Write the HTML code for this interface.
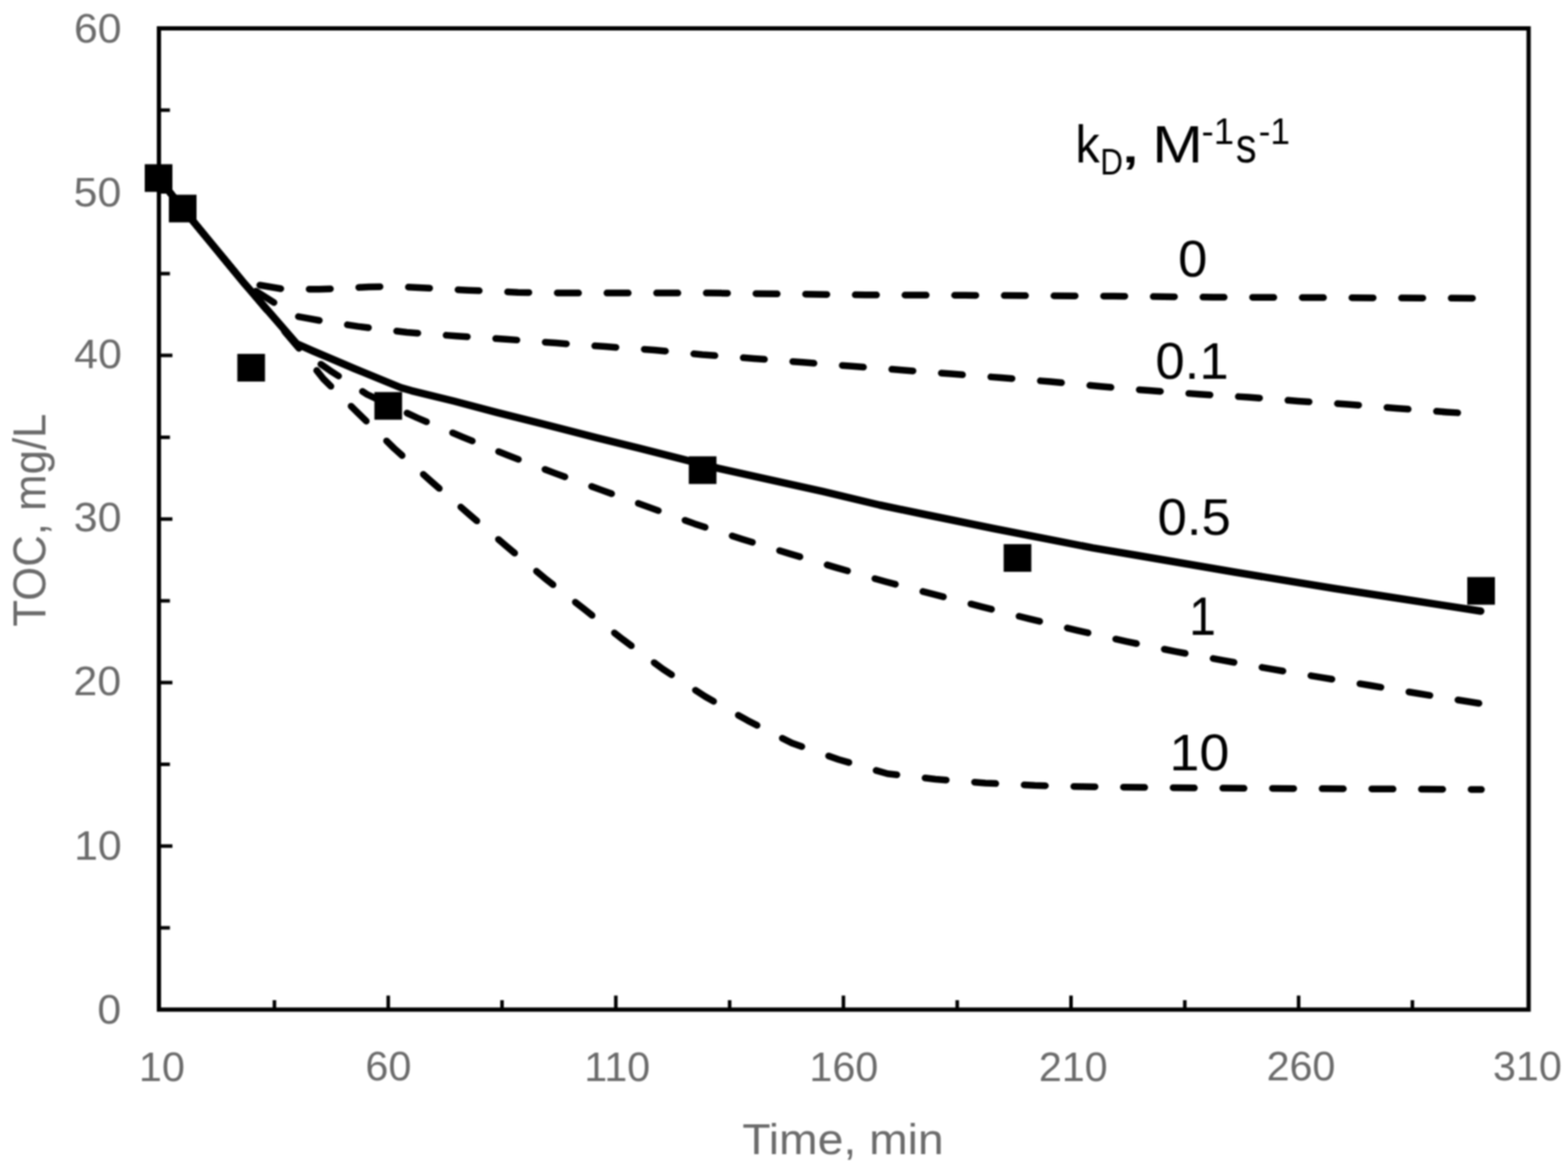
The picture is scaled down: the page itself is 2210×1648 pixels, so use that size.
<!DOCTYPE html>
<html><head><meta charset="utf-8"><title>TOC vs Time</title>
<style>html,body{margin:0;padding:0;background:#fff;width:2210px;height:1648px;overflow:hidden}</style>
</head><body>
<div style="width:2210px;height:1648px;filter:blur(1px)">
<svg xmlns="http://www.w3.org/2000/svg" width="2210" height="1648" viewBox="0 0 2210 1648" style="display:block">
<rect x="0" y="0" width="2210" height="1648" fill="#fff"/>
<path d="M223.5 251.0 L257.5 294.0 L345.0 400.3 L366.0 402.0 L399.0 407.5 L450.0 407.7 L485.0 406.5 L520.0 404.4 L555.0 404.0 L590.0 405.4 L660.0 409.2 L730.0 412.2 L800.0 413.1 L1000.0 413.1 L1220.0 415.8 L1360.0 416.3 L1570.0 417.5 L1710.0 419.0 L2088.0 420.5" fill="none" stroke="#000" stroke-width="9.5" stroke-linecap="round" stroke-linejoin="round" stroke-dasharray="30 40" stroke-dashoffset="66.27"/>
<path d="M223.5 251.0 L257.5 294.0 L345.0 400.3 L416.0 445.5 L453.0 452.3 L504.2 460.1 L573.4 468.5 L643.3 473.7 L713.2 478.2 L783.8 483.6 L853.1 488.6 L922.3 493.4 L990.0 500.0 L1062.4 505.4 L1131.7 510.8 L1200.9 516.3 L1271.5 521.7 L1340.8 527.1 L1411.3 532.5 L1480.6 538.0 L1551.2 544.8 L1619.7 550.6 L1690.3 555.7 L1759.6 560.0 L1829.5 565.4 L1899.4 569.9 L1970.0 575.7 L2039.2 580.9 L2088.0 584.0" fill="none" stroke="#000" stroke-width="9.5" stroke-linecap="round" stroke-linejoin="round" stroke-dasharray="30 40" stroke-dashoffset="68.70"/>
<path d="M223.5 251.0 L257.5 294.0 L345.0 400.3 L418.0 487.0 L440.0 505.0 L465.2 522.4 L517.4 556.0 L588.0 589.0 L652.0 616.2 L716.5 642.2 L782.2 667.1 L847.8 690.9 L913.4 714.6 L979.0 738.4 L1045.7 759.9 L1113.0 780.6 L1180.0 800.6 L1248.2 820.0 L1315.3 837.7 L1383.5 855.3 L1450.6 872.4 L1518.8 888.8 L1587.9 904.4 L1656.3 918.4 L1724.7 931.1 L1794.4 943.7 L1862.8 955.1 L1932.5 966.5 L2001.0 978.0 L2070.6 989.3 L2088.0 992.0" fill="none" stroke="#000" stroke-width="9.5" stroke-linecap="round" stroke-linejoin="round" stroke-dasharray="30 40" stroke-dashoffset="0.85"/>
<path d="M223.5 251.0 L257.5 294.0 L345.0 400.3 L418.0 487.0 L455.7 534.0 L505.2 582.9 L555.4 632.0 L607.4 678.4 L661.0 724.8 L713.0 769.4 L767.6 814.9 L823.2 858.6 L877.8 901.4 L934.3 943.3 L994.0 982.0 L1053.7 1015.7 L1116.1 1047.6 L1182.0 1070.7 L1251.0 1090.8 L1318.4 1098.5 L1389.0 1103.9 L1458.3 1107.3 L1528.9 1109.0 L1700.0 1111.0 L2088.0 1113.0" fill="none" stroke="#000" stroke-width="9.5" stroke-linecap="round" stroke-linejoin="round" stroke-dasharray="30 40" stroke-dashoffset="68.86"/>
<path d="M223.5 251.0 L257.5 294.0 L345.0 400.3 L418.0 484.5 L440.7 494.6 L500.0 519.8 L565.0 546.5 L580.0 550.8 L640.0 565.5 L700.0 581.3 L760.0 596.3 L840.0 616.8 L900.0 631.7 L966.0 648.3 L1013.0 660.3 L1100.0 679.7 L1160.0 692.8 L1240.0 712.0 L1300.0 724.5 L1400.0 745.0 L1540.0 772.4 L1600.0 782.5 L1740.0 806.5 L1880.0 829.5 L1940.0 838.7 L2087.0 861.5" fill="none" stroke="#000" stroke-width="10.5" stroke-linecap="round" stroke-linejoin="round"/>
<rect x="224.0" y="40.0" width="1930.5" height="1383.3" fill="none" stroke="#000" stroke-width="6"/>
<path d="M224.0 1308.03 H239.5 M224.0 1192.75 H243 M224.0 1077.47 H239.5 M224.0 962.20 H243 M224.0 846.92 H239.5 M224.0 731.65 H243 M224.0 616.38 H239.5 M224.0 501.10 H243 M224.0 385.82 H239.5 M224.0 270.55 H243 M224.0 155.28 H239.5 M386.81 1423.3 V1410 M547.20 1423.3 V1403.5 M707.59 1423.3 V1410 M867.98 1423.3 V1403.5 M1028.37 1423.3 V1410 M1188.76 1423.3 V1403.5 M1349.15 1423.3 V1410 M1509.54 1423.3 V1403.5 M1669.93 1423.3 V1410 M1830.32 1423.3 V1403.5 M1990.71 1423.3 V1410" stroke="#000" stroke-width="5" fill="none"/>
<rect x="204.00" y="231.50" width="39" height="39" fill="#000"/>
<rect x="238.00" y="274.50" width="39" height="39" fill="#000"/>
<rect x="334.50" y="498.90" width="39" height="39" fill="#000"/>
<rect x="527.70" y="552.70" width="39" height="39" fill="#000"/>
<rect x="970.80" y="643.30" width="39" height="39" fill="#000"/>
<rect x="1414.60" y="767.10" width="39" height="39" fill="#000"/>
<rect x="2068.00" y="813.50" width="39" height="39" fill="#000"/>
<g font-family='"Liberation Sans", Arial, sans-serif'>
<text x="171.25" y="60.35" font-size="58.0" fill="#6b6b6b" text-anchor="end" transform="translate(171.25,0) scale(1.0400,1) translate(-171.25,0)">60</text>
<text x="170.95" y="290.55" font-size="58.0" fill="#6b6b6b" text-anchor="end" transform="translate(170.95,0) scale(1.0400,1) translate(-170.95,0)">50</text>
<text x="171.70" y="518.75" font-size="58.0" fill="#6b6b6b" text-anchor="end" transform="translate(171.70,0) scale(1.0400,1) translate(-171.70,0)">40</text>
<text x="171.20" y="749.45" font-size="58.0" fill="#6b6b6b" text-anchor="end" transform="translate(171.20,0) scale(1.0400,1) translate(-171.20,0)">30</text>
<text x="170.70" y="980.30" font-size="58.0" fill="#6b6b6b" text-anchor="end" transform="translate(170.70,0) scale(1.0400,1) translate(-170.70,0)">20</text>
<text x="171.50" y="1211.65" font-size="58.0" fill="#6b6b6b" text-anchor="end" transform="translate(171.50,0) scale(1.0400,1) translate(-171.50,0)">10</text>
<text x="170.75" y="1443.10" font-size="58.0" fill="#6b6b6b" text-anchor="end" transform="translate(170.75,0) scale(1.0400,1) translate(-170.75,0)">0</text>
<text x="228.20" y="1524.35" font-size="56.5" fill="#6b6b6b" text-anchor="middle" transform="translate(228.20,0) scale(1.0300,1) translate(-228.20,0)">10</text>
<text x="547.50" y="1523.50" font-size="56.5" fill="#6b6b6b" text-anchor="middle" transform="translate(547.50,0) scale(1.0300,1) translate(-547.50,0)">60</text>
<text x="870.00" y="1523.85" font-size="56.5" fill="#6b6b6b" text-anchor="middle" transform="translate(870.00,0) scale(1.0300,1) translate(-870.00,0)">110</text>
<text x="1189.40" y="1524.05" font-size="56.5" fill="#6b6b6b" text-anchor="middle" transform="translate(1189.40,0) scale(1.0300,1) translate(-1189.40,0)">160</text>
<text x="1512.70" y="1524.05" font-size="56.5" fill="#6b6b6b" text-anchor="middle" transform="translate(1512.70,0) scale(1.0300,1) translate(-1512.70,0)">210</text>
<text x="1833.70" y="1523.50" font-size="56.5" fill="#6b6b6b" text-anchor="middle" transform="translate(1833.70,0) scale(1.0300,1) translate(-1833.70,0)">260</text>
<text x="2152.80" y="1523.20" font-size="56.5" fill="#6b6b6b" text-anchor="middle" transform="translate(2152.80,0) scale(1.0300,1) translate(-2152.80,0)">310</text>
<text x="1681.20" y="389.90" font-size="72.58" fill="#000" text-anchor="middle" transform="translate(1681.20,0) scale(1.0192,1) translate(-1681.20,0)">0</text>
<text x="1680.10" y="533.90" font-size="72.58" fill="#000" text-anchor="middle" transform="translate(1680.10,0) scale(1.0218,1) translate(-1680.10,0)">0.1</text>
<text x="1683.10" y="754.10" font-size="72.58" fill="#000" text-anchor="middle" transform="translate(1683.10,0) scale(1.0229,1) translate(-1683.10,0)">0.5</text>
<text x="1694.90" y="895.30" font-size="75.55" fill="#000" text-anchor="middle" transform="translate(1694.90,0) scale(0.8980,1) translate(-1694.90,0)">1</text>
<text x="1690.40" y="1085.90" font-size="72.49" fill="#000" text-anchor="middle" transform="translate(1690.40,0) scale(1.0474,1) translate(-1690.40,0)">10</text>
<text x="1515.80" y="229.30" font-size="75.04" fill="#000" text-anchor="start" transform="translate(1515.80,0) scale(0.9137,1) translate(-1515.80,0)">k</text>
<text x="1550.70" y="246.10" font-size="51.08" fill="#000" text-anchor="start" transform="translate(1550.70,0) scale(0.8682,1) translate(-1550.70,0)">D</text>
<text x="1577.10" y="229.30" font-size="79.17" fill="#000" text-anchor="start" transform="translate(1577.10,0) scale(1.4750,1) translate(-1577.10,0)">,</text>
<text x="1624.00" y="229.30" font-size="73.79" fill="#000" text-anchor="start" transform="translate(1624.00,0) scale(1.1640,1) translate(-1624.00,0)">M</text>
<text x="1693.60" y="203.50" font-size="51.08" fill="#000" text-anchor="start" transform="translate(1693.60,0) scale(1.0081,1) translate(-1693.60,0)">-1</text>
<text x="1741.85" y="229.30" font-size="70.51" fill="#000" text-anchor="start" transform="translate(1741.85,0) scale(0.8331,1) translate(-1741.85,0)">s</text>
<text x="1773.90" y="203.50" font-size="51.08" fill="#000" text-anchor="start" transform="translate(1773.90,0) scale(0.9733,1) translate(-1773.90,0)">-1</text>
<text x="1188.15" y="1627.20" font-size="61" fill="#6b6b6b" text-anchor="middle" transform="translate(1188.15,0) scale(1.0696,1) translate(-1188.15,0)">Time, min</text>
<text transform="translate(64.15,733.3) rotate(-90) scale(0.9634,1)" font-size="64.0" fill="#6b6b6b" text-anchor="middle">TOC, mg/L</text>
</g>
</svg>
</div>
</body></html>
